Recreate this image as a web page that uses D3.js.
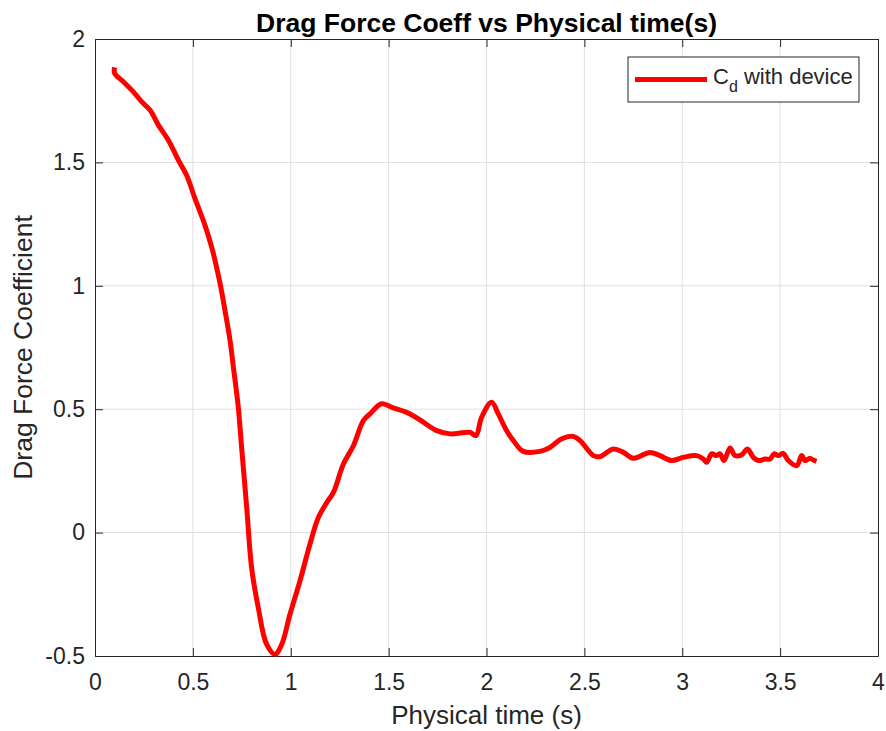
<!DOCTYPE html>
<html>
<head>
<meta charset="UTF-8">
<title>Drag Force Coeff vs Physical time(s)</title>
<style type="text/css">
body { margin: 0; background: #fff; }
text { font-family: "Liberation Sans", Arial, Helvetica, sans-serif; fill: #262626; }
.grid line { stroke: #dfdfdf; stroke-width: 1; }
</style>
<script src="https://d3js.org/d3.v7.min.js"></script>
</head>
<body>
<script type="text/javascript">
// values
var timeVals = [0.100,0.100,0.145,0.196,0.238,0.281,0.324,0.375,0.426,0.468,0.511,0.562,0.596,0.639,0.664,0.690,0.707,0.732,0.749,0.775,
    0.800,0.834,0.877,0.920,0.954,0.996,1.047,1.098,1.141,1.184,1.218,1.269,1.320,1.371,1.405,1.464,1.524,1.592,1.660,1.746,
    1.814,1.916,1.946,1.975,2.026,2.060,2.103,2.137,2.188,2.273,2.324,2.384,2.443,2.478,2.546,2.580,2.648,2.699,2.750,2.835,
    2.886,2.946,3.005,3.074,3.108,3.125,3.150,3.176,3.193,3.213,3.244,3.269,3.304,3.333,3.363,3.389,3.423,3.449,3.469,3.491,
    3.516,3.542,3.585,3.610,3.627,3.652,3.669,3.686];
var cdVals = [1.885,1.861,1.827,1.786,1.746,1.712,1.651,1.590,1.509,1.448,1.353,1.245,1.157,1.009,0.900,0.778,0.670,0.508,0.345,0.102,
    -0.142,-0.304,-0.453,-0.493,-0.453,-0.331,-0.196,-0.047,0.061,0.122,0.163,0.278,0.352,0.454,0.481,0.522,0.505,0.487,0.457,0.413,
    0.400,0.406,0.393,0.467,0.528,0.481,0.413,0.373,0.329,0.329,0.345,0.380,0.390,0.373,0.312,0.308,0.339,0.325,0.301,0.325,
    0.312,0.292,0.305,0.312,0.298,0.285,0.319,0.312,0.319,0.292,0.343,0.312,0.315,0.339,0.305,0.292,0.298,0.298,0.319,0.312,
    0.321,0.292,0.271,0.312,0.292,0.301,0.294,0.289];
var xTicks = [0, 0.5, 1, 1.5, 2, 2.5, 3, 3.5, 4];
var yTicks = [-0.5, 0, 0.5, 1, 1.5, 2];
var titleText = "Drag Force Coeff vs Physical time(s)";
var xLabel = "Physical time (s)";
var yLabel = "Drag Force Coefficient";
var seriesName = "with device";

var data = timeVals.map(function(t, i) { return {t: t, cd: cdVals[i]}; });

var W = 886, H = 731;
var margin = {top: 39, right: 8, bottom: 75, left: 95},
    width = W - margin.left - margin.right,
    height = H - margin.top - margin.bottom;

var x = d3.scaleLinear().domain([0, 4]).range([0, width]);
var y = d3.scaleLinear().domain([-0.5, 2]).range([height, 0]);

var svg = d3.select("body").append("svg")
    .attr("width", W).attr("height", H);
var g = svg.append("g")
    .attr("transform", "translate(" + margin.left + "," + margin.top + ")");

// grid
g.append("g").attr("class", "grid")
    .selectAll("line").data(xTicks.slice(1, -1)).enter().append("line")
    .attr("x1", x).attr("x2", x).attr("y1", 0).attr("y2", height);
g.append("g").attr("class", "grid")
    .selectAll("line").data(yTicks.slice(1, -1)).enter().append("line")
    .attr("y1", y).attr("y2", y).attr("x1", 0).attr("x2", width);

// axes, ticks pointing inward
function styleAxis(sel) {
    sel.select(".domain").attr("stroke", "#262626");
    sel.selectAll(".tick line").attr("stroke", "#262626");
    sel.selectAll(".tick text").style("font-size", "23px").attr("fill", "#262626");
}
var fmt = function(d) { return String(d); };
g.append("g").attr("transform", "translate(0," + height + ")")
    .call(d3.axisBottom(x).tickValues(xTicks).tickFormat(fmt).tickSizeInner(-8).tickSizeOuter(0).tickPadding(18))
    .call(styleAxis);
g.append("g")
    .call(d3.axisLeft(y).tickValues(yTicks).tickFormat(fmt).tickSizeInner(-8).tickSizeOuter(0).tickPadding(10))
    .call(styleAxis);
g.append("g")
    .call(d3.axisTop(x).tickValues(xTicks).tickFormat("").tickSizeInner(-8).tickSizeOuter(0))
    .call(styleAxis);
g.append("g").attr("transform", "translate(" + width + ",0)")
    .call(d3.axisRight(y).tickValues(yTicks).tickFormat("").tickSizeInner(-8).tickSizeOuter(0))
    .call(styleAxis);
g.selectAll(".domain").attr("stroke-width", 1);

// series
var valueline = d3.line()
    .x(function(d) { return x(d.t); })
    .y(function(d) { return y(d.cd); })
    .curve(d3.curveCatmullRom);
g.append("path").datum(data)
    .attr("d", valueline)
    .attr("fill", "none")
    .attr("stroke", "#ff0000")
    .attr("stroke-width", 5)
    .attr("stroke-linejoin", "round");

// title and labels
svg.append("text")
    .attr("x", margin.left + width / 2).attr("y", 32)
    .attr("text-anchor", "middle")
    .style("font-size", "26.5px").style("font-weight", "bold")
    .style("fill", "#000")
    .text(titleText);
svg.append("text")
    .attr("x", margin.left + width / 2).attr("y", 724)
    .attr("text-anchor", "middle")
    .style("font-size", "26px")
    .text(xLabel);
svg.append("text")
    .attr("transform", "translate(32," + (margin.top + height / 2) + ") rotate(-90)")
    .attr("text-anchor", "middle")
    .style("font-size", "26.5px")
    .text(yLabel);

// legend
var leg = svg.append("g").attr("transform", "translate(628,57)");
leg.append("rect").attr("width", 231).attr("height", 45)
    .attr("fill", "#fff").attr("stroke", "#262626").attr("stroke-width", 1);
leg.append("line").attr("x1", 7).attr("x2", 79).attr("y1", 22.5).attr("y2", 22.5)
    .attr("stroke", "#ff0000").attr("stroke-width", 5);
var lt = leg.append("text").attr("x", 85).attr("y", 26.5).style("font-size", "22px");
lt.append("tspan").text("C");
lt.append("tspan").attr("dy", 8).style("font-size", "16px").text("d");
lt.append("tspan").attr("dy", -8).text(" " + seriesName);
</script>
</body>
</html>
